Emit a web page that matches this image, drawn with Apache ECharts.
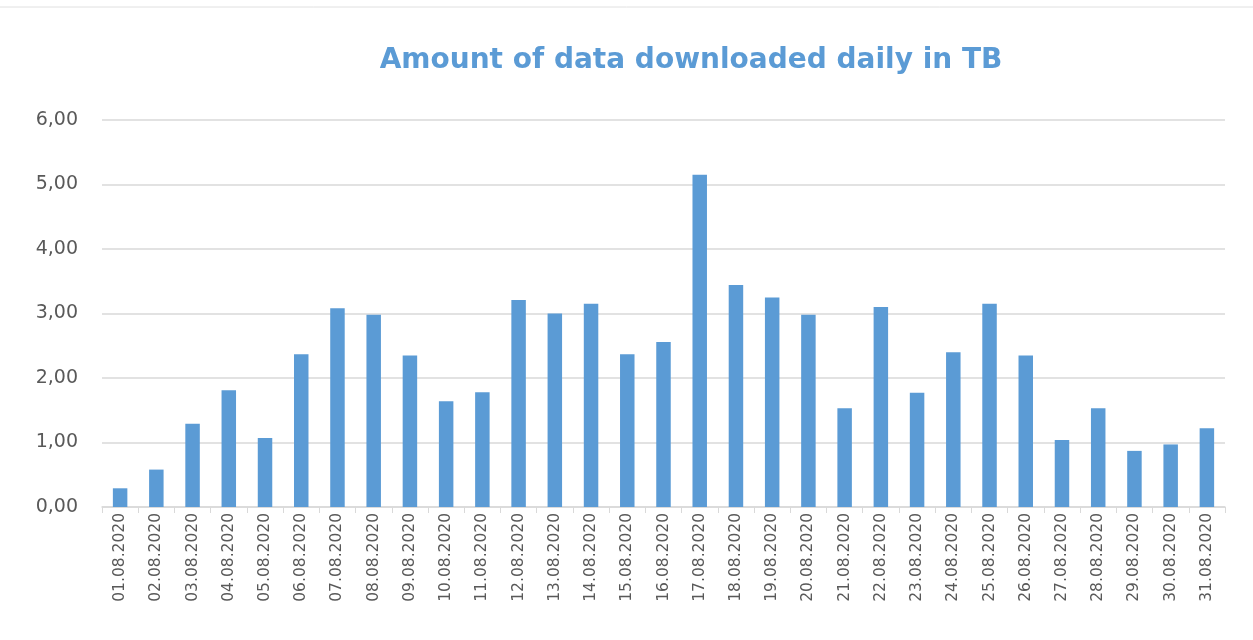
<!DOCTYPE html>
<html>
<head>
<meta charset="utf-8">
<script src="https://cdn.jsdelivr.net/npm/echarts@6/dist/echarts.min.js"></script>
<style>
  html, body { margin: 0; padding: 0; background: #fff; }
  #main { width: 1253px; height: 640px; }
</style>
</head>
<body>
<div id="main"></div>
<script>
// daily download amounts, August 2020
var days = ['01.08.2020', '02.08.2020', '03.08.2020', '04.08.2020', '05.08.2020', '06.08.2020',
    '07.08.2020', '08.08.2020', '09.08.2020', '10.08.2020', '11.08.2020', '12.08.2020',
    '13.08.2020', '14.08.2020', '15.08.2020', '16.08.2020', '17.08.2020', '18.08.2020',
    '19.08.2020', '20.08.2020', '21.08.2020', '22.08.2020', '23.08.2020', '24.08.2020',
    '25.08.2020', '26.08.2020', '27.08.2020', '28.08.2020', '29.08.2020', '30.08.2020',
    '31.08.2020'];
var tb = [0.29, 0.58, 1.29, 1.81, 1.07, 2.37, 3.08, 2.98, 2.35, 1.64, 1.78, 3.21,
    3.00, 3.15, 2.37, 2.56, 5.15, 3.44, 3.25, 2.98, 1.53, 3.10, 1.77, 2.40,
    3.15, 2.35, 1.04, 1.53, 0.87, 0.97, 1.22];
var yMin = 0, yMax = 6, yStep = 1;

var chart = echarts.init(document.getElementById('main'));
chart.setOption({
    animation: false,
    title: {
        text: 'Amount of data downloaded daily in TB',
        left: 686,
        textAlign: 'center',
        top: 42,
        textStyle: { fontFamily: 'DejaVu Sans', fontWeight: 'bold', fontSize: 28, color: '#5b9bd5' }
    },
    graphic: [{
        type: 'line',
        shape: { x1: 0, y1: 7, x2: 1253, y2: 7 },
        style: { stroke: '#e0e0e0', lineWidth: 1 }
    }],
    grid: { left: 102, right: 28, top: 120, bottom: 133 },
    xAxis: {
        type: 'category',
        data: days,
        axisLine: { lineStyle: { color: '#d9d9d9', width: 1.5 } },
        axisTick: { show: true, length: 6, lineStyle: { color: '#d9d9d9' } },
        axisLabel: {
            rotate: 90, interval: 0, margin: 6,
            fontFamily: 'DejaVu Sans', fontSize: 15.5, color: '#595959'
        }
    },
    yAxis: {
        type: 'value',
        min: yMin, max: yMax, interval: yStep,
        axisLine: { show: false },
        axisTick: { show: false },
        splitLine: { lineStyle: { color: '#d9d9d9', width: 1.5 } },
        axisLabel: {
            margin: 24,
            fontFamily: 'DejaVu Sans', fontSize: 19, color: '#595959',
            formatter: function (v) { return v.toFixed(2).replace('.', ','); }
        }
    },
    series: [{
        type: 'bar',
        data: tb,
        barWidth: '40%',
        itemStyle: { color: '#5b9bd5' }
    }]
});
</script>
</body>
</html>
